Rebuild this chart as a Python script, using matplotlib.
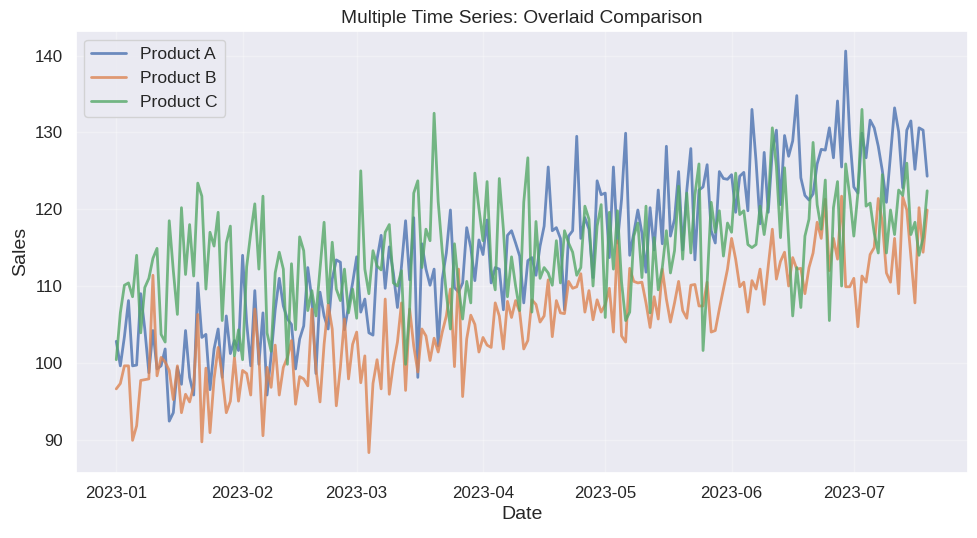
import matplotlib
matplotlib.use("Agg")
import matplotlib.pyplot as plt
import seaborn as sns
import pandas as pd

start_date = "2023-01-01"
n_days = 200

product_a = [
    102.8, 99.6, 103.4, 108.1, 99.6, 99.7, 109.0, 104.4, 98.7, 104.2, 99.2, 99.6, 101.8, 92.4, 93.5, 99.4, 97.2, 104.2, 98.1, 95.8, 110.4, 103.3, 103.7, 96.5,
    101.8, 104.4, 98.1, 106.1, 101.2, 102.9, 101.6, 114.0, 105.2, 99.6, 109.4, 99.8, 106.5, 95.8, 100.9, 106.9, 111.0, 107.4, 105.7, 105.0, 99.2, 103.1, 104.8, 112.4,
    108.3, 98.6, 109.2, 106.1, 104.4, 110.9, 113.4, 113.1, 104.3, 107.4, 110.4, 113.8, 106.6, 108.3, 103.9, 103.6, 113.5, 116.6, 109.7, 115.1, 111.7, 107.2, 112.6, 118.5, 110.8,
    118.9, 98.1, 115.5, 112.2, 110.1, 112.2, 102.2, 110.9, 114.3, 119.9, 109.8, 109.2, 110.4, 117.6, 115.0, 110.7, 116.0, 114.1, 118.6, 110.4, 112.4, 112.2, 106.9, 116.6,
    117.2, 115.6, 113.9, 107.8, 113.3, 113.7, 111.4, 115.2, 117.8, 125.5, 117.2, 117.6, 116.2, 106.9, 116.5, 117.2, 129.5, 116.2, 118.9, 117.4, 111.1, 123.7, 121.9, 122.1, 113.7,
    125.5, 115.6, 121.3, 129.9, 114.0, 116.9, 119.9, 116.9, 111.8, 120.2, 114.7, 122.5, 115.5, 128.2, 116.5, 118.7, 124.9, 114.7, 122.4, 127.9, 113.4, 122.5, 122.9, 125.8,
    117.2, 115.6, 124.9, 124.0, 123.9, 124.5, 119.6, 124.3, 124.8, 119.8, 133.0, 126.3, 118.1, 127.4, 119.6, 127.6, 130.3, 120.6, 129.6, 126.9, 128.9, 134.8, 124.1, 121.8, 121.2,
    122.0, 125.9, 127.8, 127.7, 130.6, 126.7, 134.1, 125.5, 140.6, 129.5, 122.9, 122.1, 129.9, 126.7, 131.6, 130.6, 128.2, 125.0, 120.9, 127.1, 133.2, 130.1, 122.8, 130.3, 131.5, 125.2, 130.6, 130.3, 124.3,
]

product_b = [
    96.6, 97.3, 99.6, 99.6, 89.9, 91.8, 97.7, 97.8, 97.9, 111.4, 98.3, 100.7, 100.1, 99.0, 95.2, 99.6, 93.5, 95.9, 94.9, 97.0, 106.3, 89.7, 99.3, 90.9,
    97.9, 102.0, 98.3, 93.5, 95.0, 100.7, 95.0, 99.0, 98.6, 95.8, 107.0, 100.9, 90.5, 99.4, 96.8, 102.3, 95.8, 99.4, 100.7, 102.9, 94.6, 98.2, 97.9, 97.0,
    107.0, 99.2, 94.9, 102.4, 107.6, 104.4, 94.4, 99.4, 105.7, 97.9, 102.4, 104.0, 97.4, 100.9, 88.3, 97.3, 100.4, 96.6, 108.3, 95.9, 99.8, 102.7, 107.8, 96.4, 107.0,
    102.2, 98.8, 104.4, 103.5, 100.3, 103.2, 101.4, 104.0, 106.1, 109.6, 99.5, 112.2, 95.6, 103.1, 106.2, 105.0, 101.4, 103.3, 102.3, 102.0, 107.8, 106.1, 101.8, 108.0,
    105.9, 108.1, 106.6, 101.8, 102.9, 108.2, 107.6, 105.3, 106.1, 110.8, 103.4, 108.1, 106.5, 106.4, 110.6, 109.7, 109.9, 111.6, 106.6, 109.4, 105.6, 108.2, 106.6, 107.6, 109.7,
    104.0, 115.9, 103.5, 102.7, 112.3, 110.6, 110.4, 110.5, 107.8, 104.6, 108.6, 105.7, 112.2, 108.3, 105.3, 107.8, 110.6, 106.8, 105.8, 110.1, 110.2, 107.4, 107.4, 110.5,
    104.0, 104.2, 107.0, 109.6, 112.2, 116.2, 113.5, 109.9, 110.5, 106.6, 110.7, 109.6, 112.2, 107.6, 112.6, 117.4, 110.9, 113.2, 114.4, 110.0, 113.7, 112.2, 112.3, 109.0, 112.4,
    114.3, 118.3, 116.2, 121.3, 112.0, 116.2, 113.5, 121.7, 109.9, 109.9, 111.0, 104.7, 111.3, 110.5, 114.1, 115.0, 121.4, 118.3, 111.7, 110.5, 116.2, 109.0, 121.6, 119.9, 113.9, 107.8, 120.2, 114.4, 119.9,
]

product_c = [
    100.4, 106.5, 110.1, 110.4, 108.6, 114.0, 103.9, 109.8, 111.0, 113.6, 114.9, 103.7, 102.7, 118.5, 112.0, 106.3, 120.2, 111.5, 118.0, 111.3, 123.4, 121.7, 109.6, 117.0,
    115.2, 119.6, 105.5, 115.6, 117.8, 100.9, 104.3, 100.4, 112.5, 116.9, 120.7, 112.2, 121.7, 103.9, 101.5, 111.7, 114.4, 112.2, 99.8, 112.9, 104.3, 116.4, 114.6, 106.8,
    109.4, 106.1, 112.2, 118.3, 107.8, 115.7, 109.6, 108.1, 112.2, 106.5, 109.6, 105.8, 125.0, 112.2, 109.0, 114.6, 112.6, 112.1, 117.0, 118.0, 110.4, 110.0, 112.0, 99.8, 107.0,
    122.1, 123.7, 112.4, 117.4, 115.9, 132.5, 121.0, 114.5, 109.0, 104.4, 115.5, 109.9, 105.7, 110.6, 107.8, 124.7, 120.1, 115.9, 123.6, 112.2, 109.5, 124.0, 117.4, 108.6,
    113.8, 110.0, 106.8, 120.9, 126.7, 106.6, 118.4, 111.0, 112.4, 111.7, 110.1, 115.9, 110.4, 117.2, 115.6, 114.4, 111.4, 112.4, 120.4, 118.7, 110.0, 117.8, 120.6, 105.9, 119.6,
    112.2, 119.8, 110.5, 105.5, 106.6, 116.5, 118.2, 111.1, 120.4, 106.5, 116.3, 109.5, 112.4, 117.2, 111.7, 114.6, 123.0, 113.5, 122.1, 114.3, 121.9, 125.9, 101.6, 110.4,
    120.9, 117.0, 119.8, 113.9, 118.2, 117.0, 124.7, 119.3, 119.8, 115.4, 115.0, 115.4, 120.4, 116.7, 120.6, 130.6, 125.6, 116.3, 125.4, 116.1, 106.1, 112.4, 107.2, 116.5, 118.7,
    128.7, 120.6, 117.4, 123.8, 105.5, 120.2, 123.6, 110.0, 125.9, 121.7, 116.5, 122.1, 133.0, 120.4, 120.8, 116.9, 114.3, 124.5, 114.3, 119.9, 116.7, 122.5, 121.8, 126.0, 116.7, 118.3, 114.0, 116.3, 122.4,
]

series_labels = ["Product A", "Product B", "Product C"]

sns.set_theme(style="darkgrid")
plt.rcParams["font.family"] = ["Liberation Sans", "DejaVu Sans"]

dates = pd.date_range(start_date, periods=n_days, freq="D")

fig = plt.figure(figsize=(9.77, 5.38), dpi=100)
ax = fig.add_axes([0.0775, 0.1214, 0.913, 0.821])

for vals, lab in zip([product_a, product_b, product_c], series_labels):
    ax.plot(dates, vals, label=lab, linewidth=2, alpha=0.8)

ax.grid(True, alpha=0.3)
ax.set_title("Multiple Time Series: Overlaid Comparison", fontsize=13.8)
ax.set_xlabel("Date", fontsize=14)
ax.set_ylabel("Sales", fontsize=14)
ax.tick_params(labelsize=12.2)
ax.legend(loc="upper left", fontsize=12.6)

fig.savefig("out.png", dpi=100)
